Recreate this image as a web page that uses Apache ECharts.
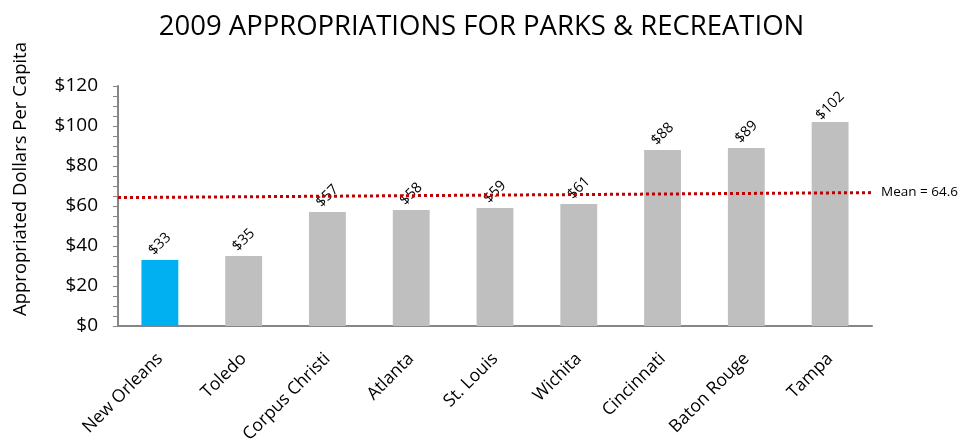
<!DOCTYPE html>
<html>
<head>
<meta charset="utf-8">
<title>2009 Appropriations for Parks & Recreation</title>
<script src="https://cdn.jsdelivr.net/npm/echarts@6/dist/echarts.min.js"></script>
<style>
  html, body { margin: 0; padding: 0; background: #fff; }
  #chart { width: 963px; height: 447px; }
</style>
</head>
<body>
<div id="chart"></div>
<script>
  // data
  var cities = ['New Orleans', 'Toledo', 'Corpus Christi', 'Atlanta', 'St. Louis', 'Wichita', 'Cincinnati', 'Baton Rouge', 'Tampa'];
  var dollars = [33, 35, 57, 58, 59, 61, 88, 89, 102];
  var highlight = 'New Orleans';
  // the mean line is drawn slightly tilted in the original
  var meanStart = 64.2;
  var meanEnd = 66.7;
  var meanText = 'Mean = 64.6';

  var font = '"Open Sans", "Noto Sans", sans-serif';

  var barData = cities.map(function (c, i) {
    return {
      value: dollars[i],
      itemStyle: { color: c === highlight ? '#00B0F0' : '#BFBFBF' }
    };
  });

  var myChart = echarts.init(document.getElementById('chart'));
  myChart.setOption({
    animation: false,
    textStyle: { fontFamily: font },
    title: {
      text: '2009 APPROPRIATIONS FOR PARKS & RECREATION',
      left: 'center',
      top: 8,
      textStyle: { fontFamily: font, fontSize: 27.5, fontWeight: 'normal', color: '#000' }
    },
    // y axis title sits a bit above the middle of the axis, so draw it as a graphic
    graphic: [{
      type: 'text',
      x: 21,
      y: 179,
      rotation: Math.PI / 2,
      style: {
        text: 'Appropriated Dollars Per Capita',
        fontFamily: font,
        fontSize: 18.5,
        fill: '#000',
        textAlign: 'center',
        textVerticalAlign: 'middle'
      }
    }],
    grid: { left: 118, right: 91, top: 86, bottom: 121 },
    xAxis: [{
      type: 'category',
      data: cities,
      axisLine: { lineStyle: { color: '#868686', width: 2 } },
      axisTick: { show: false },
      axisLabel: { rotate: 45, fontSize: 17.5, color: '#000', margin: 30, fontFamily: font }
    }, {
      type: 'value',
      min: 0,
      max: 1,
      show: false
    }],
    yAxis: {
      type: 'value',
      min: 0,
      max: 120,
      interval: 20,
      axisLine: { show: true, lineStyle: { color: '#868686', width: 2 } },
      axisTick: { show: true, length: 5, lineStyle: { color: '#868686' } },
      minorTick: { show: true, splitNumber: 4, length: 5, lineStyle: { color: '#868686' } },
      splitLine: { show: false },
      axisLabel: {
        fontSize: 19, color: '#000', margin: 20, fontFamily: font,
        formatter: function (v) { return '$' + v; }
      }
    },
    series: [{
      type: 'bar',
      data: barData,
      barWidth: '44%',
      label: {
        show: true,
        position: 'top',
        rotate: 45,
        align: 'center',
        verticalAlign: 'middle',
        distance: 16,
        fontSize: 14.5,
        color: '#000',
        fontFamily: font,
        formatter: function (p) { return '$' + p.value; }
      },
      z: 2
    }, {
      type: 'line',
      xAxisIndex: 1,
      data: [[0, meanStart], [1, meanEnd]],
      symbol: 'none',
      lineStyle: { color: '#C00000', width: 3, type: [3, 3] },
      endLabel: {
        show: true,
        formatter: meanText,
        fontSize: 13.5,
        color: '#000',
        distance: 9,
        fontFamily: font
      },
      z: 3
    }]
  });

  window.addEventListener('resize', function () {
    myChart.resize();
  });
</script>
</body>
</html>
